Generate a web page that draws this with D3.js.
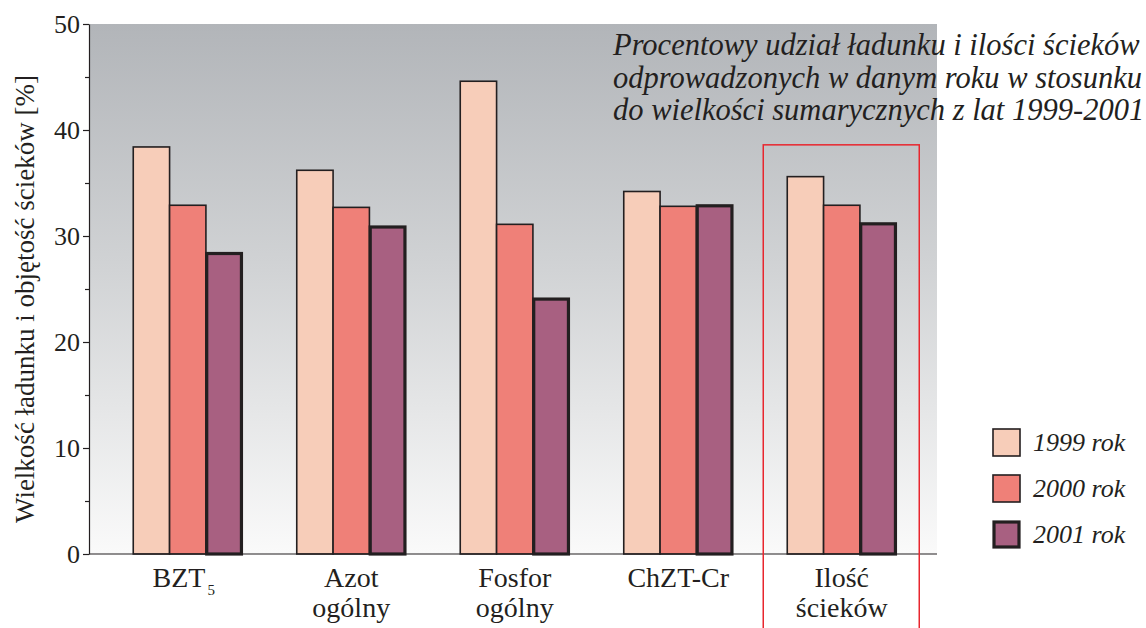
<!DOCTYPE html>
<html>
<head>
<meta charset="utf-8">
<script src="https://cdn.jsdelivr.net/npm/d3@7"></script>
<style>
  html, body { margin: 0; padding: 0; background: #fff; }
  svg { display: block; font-family: "Liberation Serif", "Times New Roman", serif; }
</style>
</head>
<body>
<svg id="chart" width="1146" height="628"></svg>
<script>
// Pollutant categories (x axis), with optional second line and subscript
const categories = ["BZT5", "Azot ogólny", "Fosfor ogólny", "ChZT-Cr", "Ilość ścieków"];
const categoryLines = [["BZT"], ["Azot", "ogólny"], ["Fosfor", "ogólny"], ["ChZT-Cr"], ["Ilość", "ścieków"]];
const years = ["1999 rok", "2000 rok", "2001 rok"];
// Share of 1999-2001 total, in percent
const values1999 = [38.4, 36.2, 44.6, 34.2, 35.6];
const values2000 = [32.9, 32.7, 31.1, 32.8, 32.9];
const values2001 = [28.5, 31.0, 24.2, 33.0, 31.3];
const yTicks = [0, 10, 20, 30, 40, 50];
const yMinorTicks = [5, 15, 25, 35, 45];
const titleLines = [
  "Procentowy udział ładunku i ilości ścieków",
  "odprowadzonych w danym roku w stosunku",
  "do wielkości sumarycznych z lat 1999-2001"
];
const yLabel = "Wielkość ładunku i objętość ścieków [%]";

const fills = ["#F7CDB9", "#EF8078", "#A86081"];
const strokeW = [1.6, 1.6, 3.2];
const strokeC = "#231f20";

const svg = d3.select("#chart");
const plot = { left: 89, right: 937, top: 24, bottom: 554 };

const y = d3.scaleLinear().domain([0, 50]).range([plot.bottom, plot.top]);
const x = d3.scaleBand().domain(categories).range([106, 923.5])
  .paddingInner(1 / 3).paddingOuter(1 / 6);
const xs = d3.scaleBand().domain(years).range([0, x.bandwidth()]);

// Background gradient
const defs = svg.append("defs");
const grad = defs.append("linearGradient").attr("id", "bg")
  .attr("x1", 0).attr("y1", 0).attr("x2", 0).attr("y2", 1);
grad.append("stop").attr("offset", "0%").attr("stop-color", "#B2B5B9");
grad.append("stop").attr("offset", "45%").attr("stop-color", "#D0D2D4");
grad.append("stop").attr("offset", "100%").attr("stop-color", "#FAFAFA");

svg.append("rect")
  .attr("x", plot.left).attr("y", plot.top)
  .attr("width", plot.right - plot.left).attr("height", plot.bottom - plot.top)
  .attr("fill", "url(#bg)");

// Bars
const series = [values1999, values2000, values2001];
series.forEach((vals, si) => {
  svg.append("g").selectAll("rect")
    .data(vals)
    .join("rect")
    .attr("x", (d, i) => x(categories[i]) + xs(years[si]) + (si === 2 ? strokeW[2] / 2 - 0.8 : 0))
    .attr("y", d => y(d) + (si === 2 ? strokeW[2] / 2 : 0))
    .attr("width", xs.bandwidth() - (si === 2 ? strokeW[2] - 1.6 : 0))
    .attr("height", d => plot.bottom - y(d) - (si === 2 ? strokeW[2] / 2 : 0))
    .attr("fill", fills[si])
    .attr("stroke", strokeC)
    .attr("stroke-width", strokeW[si]);
});

// Y axis
const yAxis = svg.append("g").attr("transform", `translate(${plot.left},0)`)
  .call(d3.axisLeft(y).tickValues(yTicks).tickSize(6).tickPadding(3).tickSizeOuter(0));
yAxis.select(".domain").attr("stroke", "#231f20").attr("stroke-width", 1.2);
yAxis.selectAll(".tick line").attr("stroke", "#231f20").attr("stroke-width", 1.2);
yAxis.selectAll(".tick text")
  .attr("font-family", "Liberation Serif").attr("font-size", 26).attr("fill", "#231f20")
  .attr("dy", "0.34em");

const yMinor = svg.append("g").attr("transform", `translate(${plot.left},0)`)
  .call(d3.axisLeft(y).tickValues(yMinorTicks).tickSize(4).tickFormat(""));
yMinor.select(".domain").remove();
yMinor.selectAll(".tick line").attr("stroke", "#231f20").attr("stroke-width", 1.2);

// X axis baseline
svg.append("line")
  .attr("x1", plot.left).attr("x2", plot.right)
  .attr("y1", plot.bottom).attr("y2", plot.bottom)
  .attr("stroke", "#231f20").attr("stroke-width", 1.2);

// Category labels (one text element per category, lines as tspans)
const xl = svg.append("g").attr("font-size", 28).attr("fill", "#231f20").attr("text-anchor", "middle");
categories.forEach((c, i) => {
  const cx = x(c) + x.bandwidth() / 2;
  const t = xl.append("text").attr("x", cx).attr("y", 587);
  if (i === 0) {
    t.append("tspan").attr("dx", -4).text(categoryLines[i][0]);
    t.append("tspan").attr("font-size", 15).attr("dx", 2).attr("dy", 8).text("5");
  } else {
    categoryLines[i].forEach((line, li) => {
      t.append("tspan").attr("x", cx).attr("dy", li === 0 ? 0 : 30).text(line);
    });
  }
});

// Y axis title
svg.append("text")
  .attr("transform", `translate(34,${(plot.top + plot.bottom) / 2 + 10}) rotate(-90)`)
  .attr("text-anchor", "middle").attr("font-size", 27).attr("fill", "#231f20")
  .text(yLabel);

// Title
const title = svg.append("g").attr("font-style", "italic").attr("font-size", 30.5).attr("fill", "#231f20");
titleLines.forEach((line, i) => {
  title.append("text").attr("x", 613).attr("y", 55 + i * 32.5).text(line);
});

// Highlight frame around the wastewater volume group
const hx = x(categories[4]);
svg.append("rect")
  .attr("x", hx - 24).attr("y", y(38.6))
  .attr("width", x.bandwidth() + 47).attr("height", 700)
  .attr("fill", "none").attr("stroke", "#E8262E").attr("stroke-width", 1.5);

// Legend
const legend = svg.append("g").attr("transform", "translate(993,429)");
years.forEach((yr, i) => {
  const g = legend.append("g").attr("transform", `translate(0,${i * 46})`);
  g.append("rect")
    .attr("x", i === 2 ? 1 : 0).attr("y", i === 2 ? 1 : 0)
    .attr("width", i === 2 ? 25 : 27).attr("height", i === 2 ? 25 : 27)
    .attr("fill", fills[i]).attr("stroke", strokeC).attr("stroke-width", strokeW[i]);
  g.append("text").attr("x", 40).attr("y", 22)
    .attr("font-style", "italic").attr("font-size", 26).attr("fill", "#231f20")
    .text(yr);
});
</script>
</body>
</html>
